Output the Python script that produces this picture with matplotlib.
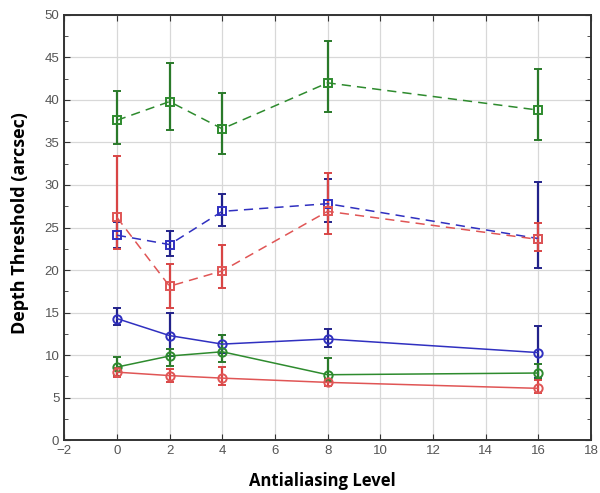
import matplotlib
matplotlib.use("Agg")
import matplotlib.pyplot as plt
from matplotlib.ticker import MultipleLocator

# ── Data ─────────────────────────────────────────────────────────────────────
levels = [0, 2, 4, 8, 16]

# dashed series (square markers)
green_dash = [37.6, 39.8, 36.6, 42.0, 38.8]
green_dash_lo = [2.8, 3.3, 3.0, 3.4, 3.5]
green_dash_hi = [3.5, 4.5, 4.2, 4.9, 4.8]

blue_dash = [24.1, 23.0, 26.9, 27.8, 23.7]
blue_dash_lo = [1.5, 1.3, 1.7, 2.1, 3.4]
blue_dash_hi = [1.6, 1.6, 2.0, 2.9, 6.6]

red_dash = [26.2, 18.1, 19.9, 26.9, 23.6]
red_dash_lo = [3.7, 2.6, 2.0, 2.7, 1.4]
red_dash_hi = [7.2, 2.6, 3.0, 4.5, 1.9]

# solid series (circle markers)
blue_solid = [14.3, 12.3, 11.3, 11.9, 10.3]
blue_solid_lo = [0.8, 2.4, 1.1, 1.0, 3.0]
blue_solid_hi = [1.2, 2.7, 1.1, 1.2, 3.1]

green_solid = [8.6, 9.9, 10.4, 7.7, 7.9]
green_solid_lo = [1.1, 1.2, 1.2, 0.7, 0.7]
green_solid_hi = [1.2, 0.8, 2.0, 2.0, 1.1]

red_solid = [8.0, 7.6, 7.3, 6.8, 6.1]
red_solid_lo = [0.6, 0.7, 0.8, 0.4, 0.5]
red_solid_hi = [0.5, 0.8, 1.3, 0.4, 1.0]

GREEN = "#2e8b2e"
BLUE = "#3030c0"
RED = "#e05555"
ERR = {GREEN: "#2a7a2a", BLUE: "#22228a", RED: "#d84545"}

series = [
    (green_dash, green_dash_lo, green_dash_hi, GREEN, "--", "s"),
    (blue_dash, blue_dash_lo, blue_dash_hi, BLUE, "--", "s"),
    (red_dash, red_dash_lo, red_dash_hi, RED, "--", "s"),
    (blue_solid, blue_solid_lo, blue_solid_hi, BLUE, "-", "o"),
    (green_solid, green_solid_lo, green_solid_hi, GREEN, "-", "o"),
    (red_solid, red_solid_lo, red_solid_hi, RED, "-", "o"),
]

# ── Figure ───────────────────────────────────────────────────────────────────
fig = plt.figure(figsize=(6.0, 4.93), dpi=100)
ax = fig.add_axes([0.107, 0.107, 0.878, 0.863])

for vals, lo, hi, col, ls, mk in series:
    ax.errorbar(levels, vals, yerr=[lo, hi], fmt="none", ecolor=ERR[col],
                elinewidth=1.6, capsize=3.2, capthick=1.4, zorder=3)
    ax.plot(levels, vals, ls=ls, color=col, lw=1.1, marker=mk, ms=6,
            mfc="none", mec=col, mew=1.4, zorder=4,
            dashes=(6, 4) if ls == "--" else (None, None))

ax.set_xlim(-2, 18)
ax.set_ylim(0, 50)
ax.xaxis.set_major_locator(MultipleLocator(2))
ax.yaxis.set_major_locator(MultipleLocator(5))
ax.yaxis.set_minor_locator(MultipleLocator(2.5))
ax.grid(True, which="major", color="#d8d8d8", lw=0.9)
ax.set_axisbelow(True)
ax.tick_params(which="both", direction="in", top=True, right=True,
               labelsize=9.5, labelcolor="#555555", color="#333333")
ax.tick_params(which="major", length=4)
ax.tick_params(which="minor", length=3)
for lab in ax.get_xticklabels() + ax.get_yticklabels():
    lab.set_family("Liberation Sans")
for sp in ax.spines.values():
    sp.set_color("#333333")
    sp.set_linewidth(1.4)

ax.set_xlabel("Antialiasing Level", fontsize=12, fontweight="bold",
              family="Open Sans")
ax.set_ylabel("Depth Threshold (arcsec)", fontsize=13, fontweight="bold",
              family="Open Sans")
ax.xaxis.set_label_coords(0.49, -0.075)
ax.yaxis.set_label_coords(-0.066, 0.51)

fig.savefig("out.png", dpi=100)
